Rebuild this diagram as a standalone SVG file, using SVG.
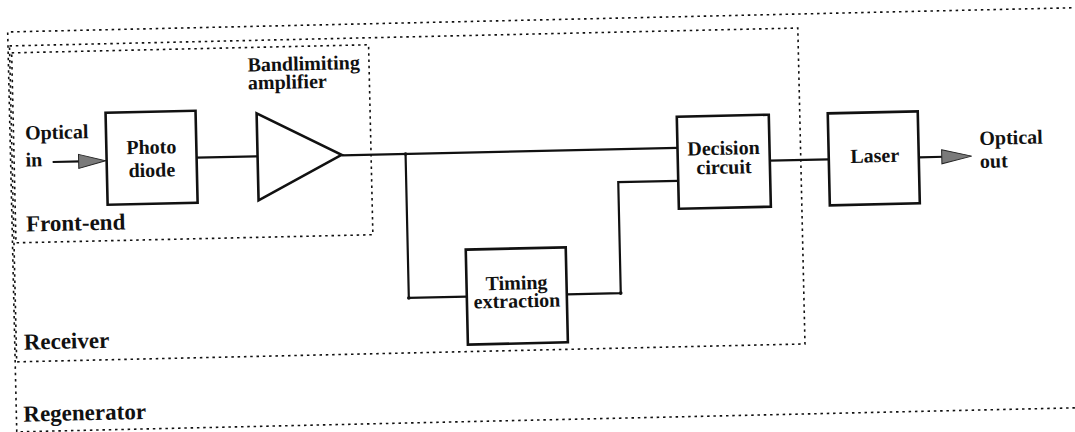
<svg xmlns="http://www.w3.org/2000/svg" width="1075" height="432" viewBox="0 0 1075 432">
  <defs>
    <style>
      .zone { fill: none; stroke: #111; stroke-width: 1.6; stroke-dasharray: 2.5 3.8; }
      .blk { fill: #fff; stroke: #111; stroke-width: 2.6; }
      .wire { fill: none; stroke: #111; stroke-width: 2.2; }
      .head { fill: #7a7a7a; stroke: #222; stroke-width: 1; }
      .lbl { font-family: "Liberation Serif", "Times New Roman", serif; font-weight: bold; font-size: 20px; fill: #111; }
      .mid { text-anchor: middle; }
      .zlbl { font-family: "Liberation Serif", "Times New Roman", serif; font-weight: bold; font-size: 23px; fill: #111; }
    </style>
  </defs>
  <rect width="1075" height="432" fill="#fff"/>
  <!-- the whole drawing sits slightly tilted on the page -->
  <g transform="rotate(-1.3 537 216)">
    <!-- dotted enclosures -->
    <g id="regenerator">
      <path class="zone" d="M1095,20 H12 V420 H1095"/>
      <text class="zlbl" x="19" y="410">Regenerator</text>
    </g>
    <g id="receiver">
      <rect class="zone" x="13.5" y="34" width="788.5" height="316"/>
      <text class="zlbl" x="21" y="338">Receiver</text>
    </g>
    <g id="front-end">
      <rect class="zone" x="15.5" y="41" width="357" height="190"/>
      <text class="zlbl" x="26" y="220">Front-end</text>
    </g>

    <!-- signal connections -->
    <g id="connectors">
      <line class="wire" x1="54" y1="151" x2="82" y2="151"/>
      <polygon class="head" points="80,144 107,151 80,158"/>
      <line class="wire" x1="198" y1="150" x2="259" y2="150"/>
      <line class="wire" x1="343" y1="151" x2="679" y2="151"/>
      <polyline class="wire" points="407,151 407,295 465,295"/>
      <polyline class="wire" points="565,295 619,295 619,184 679,184"/>
      <line class="wire" x1="771" y1="166" x2="830" y2="166"/>
      <line class="wire" x1="920" y1="166" x2="946" y2="166"/>
      <polygon class="head" points="943,159 973,166 943,173"/>
      <circle cx="407" cy="151" r="1.8" fill="#111"/>
      <circle cx="407" cy="295" r="1.8" fill="#111"/>
      <circle cx="619" cy="295" r="1.8" fill="#111"/>
    </g>

    <g id="optical-in">
      <text class="lbl" x="27" y="128">Optical</text>
      <text class="lbl" x="27" y="155">in</text>
    </g>
    <g id="photodiode">
      <rect class="blk" x="108" y="103" width="90" height="92"/>
      <text class="lbl mid" x="153" y="145">Photo</text>
      <text class="lbl mid" x="153" y="168">diode</text>
    </g>
    <g id="amplifier">
      <polygon class="blk" points="259,107 259,194 343,150.5"/>
      <text class="lbl" x="251" y="65">Bandlimiting</text>
      <text class="lbl" x="251" y="83">amplifier</text>
    </g>
    <g id="timing">
      <rect class="blk" x="465" y="248" width="100" height="95"/>
      <text class="lbl mid" x="515" y="289">Timing</text>
      <text class="lbl mid" x="515" y="307">extraction</text>
    </g>
    <g id="decision">
      <rect class="blk" x="679" y="120" width="92" height="92"/>
      <text class="lbl mid" x="725" y="159">Decision</text>
      <text class="lbl mid" x="725" y="178">circuit</text>
    </g>
    <g id="laser">
      <rect class="blk" x="830" y="120" width="90" height="92"/>
      <text class="lbl mid" x="876" y="170">Laser</text>
    </g>
    <g id="optical-out">
      <text class="lbl" x="981" y="155">Optical</text>
      <text class="lbl" x="981" y="178">out</text>
    </g>
  </g>
</svg>
